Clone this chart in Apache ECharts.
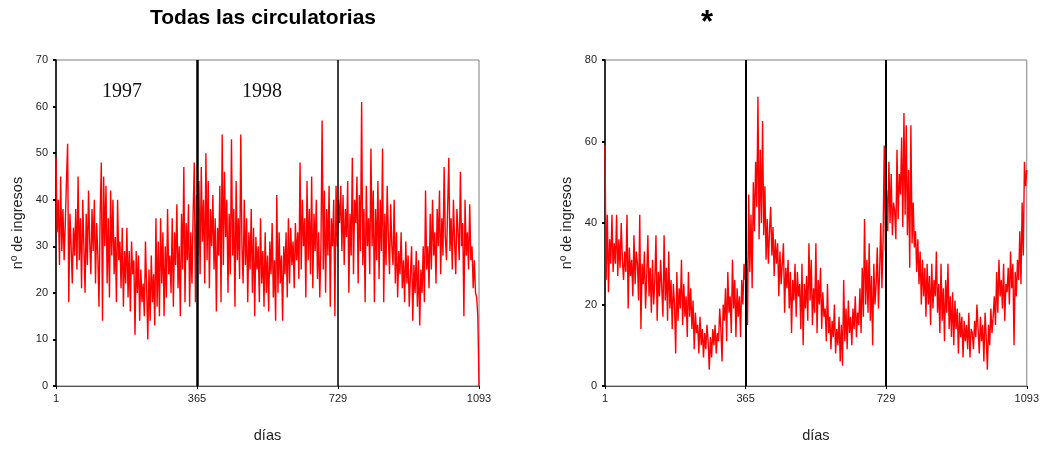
<!DOCTYPE html>
<html>
<head>
<meta charset="utf-8">
<script src="https://cdn.jsdelivr.net/npm/echarts@6/dist/echarts.min.js"></script>
<style>html,body{margin:0;padding:0;background:#fff}#c{width:1042px;height:450px}</style>
</head>
<body>
<div id="c"></div>
<script>
// sampled every 3 days: day = 1 + 3*i
const dayStep = 3;
const firstDay = 1;
const xTicks = [1, 365, 729, 1093];
const yearLines = [365, 729];
const yearLabels = ['1997', '1998'];
const titles = ['Todas las circulatorias', '*'];

const seriesA = [
49,33,40,26,45,29,38,27,35,44,
52,18,37,30,22,34,28,38,25,45,
27,36,21,40,30,20,37,26,42,31,
24,38,29,40,22,35,28,17,37,48,
14,45,30,43,22,36,19,42,28,40,
24,32,18,40,27,31,21,34,17,29,
22,34,19,29,16,31,24,27,11,29,
20,28,14,25,18,22,15,31,21,10,
25,14,28,18,24,13,36,17,31,15,
36,22,33,15,30,19,38,24,28,20,
36,17,33,26,39,21,30,15,37,25,
47,18,35,27,39,17,33,22,37,48,
18,41,28,44,24,47,31,40,22,50,
27,44,21,38,30,41,25,36,16,34,
28,43,18,54,26,46,32,40,20,37,
24,53,28,38,17,44,27,36,23,54,
30,22,40,26,36,18,33,25,38,20,
34,15,32,25,30,18,36,22,29,17,
33,20,28,16,31,24,35,19,27,14,
41,20,33,22,28,14,30,24,33,19,
36,22,34,26,31,21,35,27,33,23,
48,25,40,30,36,19,44,27,38,24,
45,21,37,29,40,23,33,19,30,57,
25,42,20,38,28,43,17,36,30,40,
15,43,30,40,35,43,29,41,26,38,
32,44,20,37,28,49,24,40,35,45,
22,41,29,61,26,38,18,43,30,36,
24,51,30,42,18,38,27,44,23,40,
29,51,18,37,26,43,32,24,39,30,
26,40,22,33,19,29,24,33,21,27,
18,31,22,28,17,24,30,14,26,20,
29,17,27,13,25,20,30,18,42,25,
30,21,37,25,40,28,33,22,38,30,
42,24,36,28,47,32,27,38,49,29,
36,25,40,31,24,38,33,27,46,30,
35,15,40,28,33,25,39,27,30,21,
27,20,19,15,0
];

const seriesB = [
59,26,42,23,36,30,42,28,35,30,
42,27,36,29,40,31,26,33,28,42,
19,34,27,31,22,37,25,33,30,21,
42,14,30,25,33,19,27,37,22,29,
18,31,20,26,37,16,28,22,31,24,
17,37,21,29,16,33,19,26,14,25,
20,8,28,16,24,19,31,15,25,17,
22,12,28,17,24,14,21,9,18,13,
15,8,17,10,14,7,13,9,15,11,
4,12,7,14,10,15,8,13,11,19,
14,6,20,16,24,11,28,18,22,13,
31,19,26,12,24,17,22,12,26,20,
30,26,32,15,47,28,42,24,50,38,
55,44,71,36,58,40,65,37,49,31,
41,30,38,44,32,39,27,36,30,35,
22,33,25,30,35,18,29,24,31,19,
28,13,26,21,30,17,28,22,25,14,
30,10,25,19,27,16,35,21,31,15,
24,18,35,13,26,20,29,14,23,17,
19,11,25,13,17,9,16,12,20,8,
14,10,17,6,15,5,26,11,19,9,
21,13,17,10,19,14,22,12,18,15,
24,13,29,17,41,20,31,18,35,16,
27,10,30,20,25,34,19,28,40,24,
36,59,33,48,38,55,40,52,37,45,
43,36,58,41,52,47,61,39,67,42,
64,37,53,29,64,35,45,34,38,28,
36,25,33,20,31,22,29,17,30,20,
27,15,30,19,26,22,33,18,25,13,
30,16,24,11,26,18,30,14,22,12,
23,10,21,14,19,8,18,12,17,7,
16,11,15,9,18,7,14,13,9,16,
12,20,14,8,17,11,15,6,18,12,
4,15,10,19,13,17,22,15,28,18,
31,22,26,19,30,16,25,23,29,20,
33,24,30,10,28,22,31,26,38,25,
45,32,55,49,53
];

function toPairs(arr){ return arr.map((v,i)=>[firstDay + dayStep*i, v]); }

const chart = echarts.init(document.getElementById('c'), null, {renderer:'canvas'});
const font = 'Liberation Sans, Arial, sans-serif';
const grids = [
  {left:56, top:60, width:423, height:326, show:true, borderColor:'#7f7f7f', borderWidth:1},
  {left:605, top:60, width:422, height:326, show:true, borderColor:'#7f7f7f', borderWidth:1}
];
function xAx(gi){
  return {gridIndex:gi, type:'value', min:1, max:1093,
    name:'días', nameLocation:'middle', nameGap:42,
    nameTextStyle:{fontFamily:font, fontSize:14.5, color:'#222'},
    axisLine:{show:true, lineStyle:{color:'#555', width:1}},
    axisTick:{show:true, length:3, customValues:xTicks, lineStyle:{color:'#000'}},
    axisLabel:{customValues:xTicks, formatter:(v)=>String(v), fontFamily:font, fontSize:11, color:'#222', margin:7},
    splitLine:{show:false}};
}
function yAx(gi, max, interval){
  return {gridIndex:gi, type:'value', min:0, max:max, interval:interval,
    name:'nº de ingresos', nameLocation:'middle', nameGap:31,
    nameTextStyle:{fontFamily:font, fontSize:14.5, color:'#222'},
    axisLine:{show:true, lineStyle:{color:'#000', width:1.5}},
    axisTick:{show:true, length:3, lineStyle:{color:'#000', width:2}},
    axisLabel:{fontFamily:font, fontSize:11, color:'#222', margin:8},
    splitLine:{show:false}};
}
function mk(widths){
  return {symbol:'none', silent:true, label:{show:false},
    data: yearLines.map((d,i)=>({xAxis:d, lineStyle:{color:'#000', width:widths[i], type:'solid'}}))};
}
chart.setOption({
  animation:false,
  title:[
    {text:titles[0], left:258, top:3, textAlign:'center', textStyle:{fontFamily:font, fontSize:21, fontWeight:'bold', color:'#000'}},
    {text:titles[1], left:702, top:3, textAlign:'center', textStyle:{fontFamily:font, fontSize:31, fontWeight:'bold', color:'#000'}}
  ],
  grid:grids,
  xAxis:[xAx(0), xAx(1)],
  yAxis:[yAx(0,70,10), yAx(1,80,20)],
  graphic:[
    {type:'text', left:102, top:82, style:{text:yearLabels[0], font:'20px "Liberation Serif", "Times New Roman", serif', fill:'#111'}},
    {type:'text', left:242, top:82, style:{text:yearLabels[1], font:'20px "Liberation Serif", "Times New Roman", serif', fill:'#111'}}
  ],
  series:[
    {type:'line', xAxisIndex:0, yAxisIndex:0, data:toPairs(seriesA), showSymbol:false, symbol:'none',
      lineStyle:{color:'#ff0000', width:1.4}, markLine:mk([2.5,1.5])},
    {type:'line', xAxisIndex:1, yAxisIndex:1, data:toPairs(seriesB), showSymbol:false, symbol:'none',
      lineStyle:{color:'#ff0000', width:1.4}, markLine:mk([2,2])}
  ]
});
</script>
</body>
</html>
